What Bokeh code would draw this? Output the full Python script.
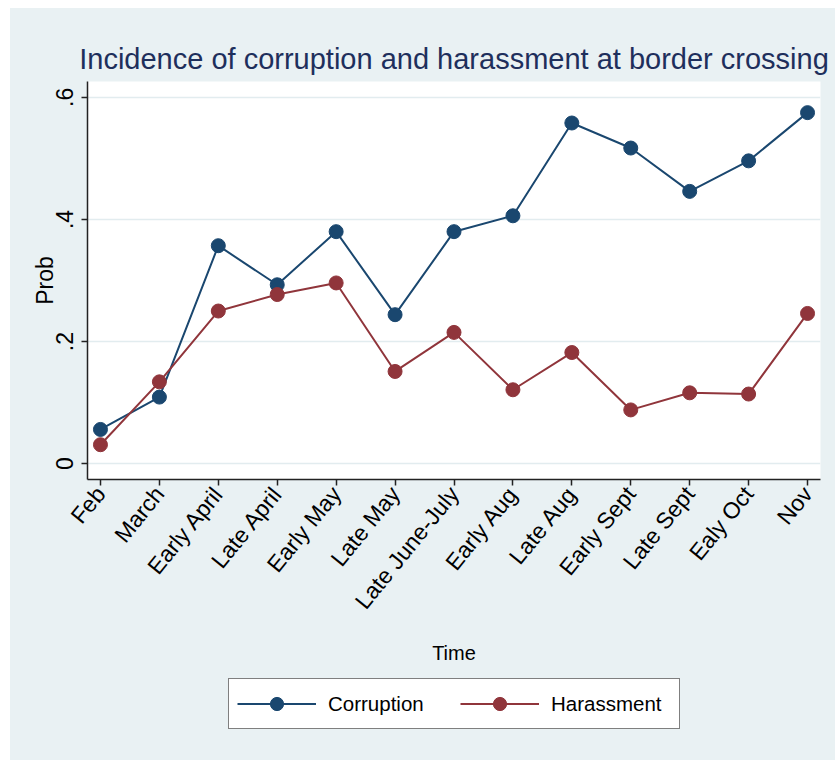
import math
from bokeh.plotting import figure
from bokeh.models import (Range1d, FixedTicker, Legend, LegendItem, ColumnDataSource, Spacer)
from bokeh.layouts import column, row
from bokeh.embed import file_html
from bokeh.resources import INLINE

categories = ["Feb", "March", "Early April", "Late April", "Early May", "Late May",
              "Late June-July", "Early Aug", "Late Aug", "Early Sept", "Late Sept",
              "Ealy Oct", "Nov"]
corruption = [0.056, 0.109, 0.357, 0.293, 0.380, 0.244, 0.380, 0.406, 0.558, 0.517, 0.446, 0.496, 0.575]
harassment = [0.031, 0.134, 0.250, 0.277, 0.296, 0.151, 0.215, 0.121, 0.182, 0.088, 0.116, 0.114, 0.246]
y_ticks = [0, 0.2, 0.4, 0.6]
y_tick_labels = ["0", ".2", ".4", ".6"]
series_names = ["Corruption", "Harassment"]

BG = "#e9f1f3"
NAVY = "#1a476f"
MAROON = "#90353b"
REG = "Liberation Sans"

xs = list(range(len(categories)))
src = ColumnDataSource(dict(x=xs, corr=corruption, har=harassment))

p = figure(width=825, height=670, output_backend="svg", toolbar_location=None,
           x_range=Range1d(-0.22, 12.22), y_range=Range1d(-0.026, 0.626),
           min_border_left=77, min_border_right=15, min_border_top=73, min_border_bottom=199)
p.border_fill_color = BG
p.background_fill_color = "white"
p.outline_line_color = None

p.title.text = "Incidence of corruption and harassment at border crossing"
p.title.align = "center"
p.title.text_font = REG
p.title.text_font_size = "29px"
p.title.text_font_style = "normal"
p.title.text_color = "#1e2f5c"
p.title.standoff = 13

# axes
p.xaxis.ticker = FixedTicker(ticks=xs)
p.xaxis.major_label_overrides = {i: c for i, c in enumerate(categories)}
p.xaxis.major_label_orientation = math.radians(51)
p.xaxis.major_label_text_font = REG
p.xaxis.major_label_text_font_size = "23px"
p.xaxis.major_label_text_color = "black"
p.xaxis.major_label_standoff = 4
p.xaxis.axis_label = "Time"
p.xaxis.axis_label_text_font = REG
p.xaxis.axis_label_text_font_size = "20px"
p.xaxis.axis_label_text_font_style = "normal"
p.xaxis.axis_label_text_color = "black"
p.xaxis.axis_label_standoff = 17

p.yaxis.ticker = FixedTicker(ticks=y_ticks)
p.yaxis.major_label_overrides = {t: l for t, l in zip(y_ticks, y_tick_labels)}
p.yaxis.major_label_orientation = "vertical"
p.yaxis.major_label_text_font = REG
p.yaxis.major_label_text_font_size = "23px"
p.yaxis.major_label_text_color = "black"
p.yaxis.major_label_standoff = 8
p.yaxis.axis_label = "Prob"
p.yaxis.axis_label_text_font = REG
p.yaxis.axis_label_text_font_size = "23px"
p.yaxis.axis_label_text_font_style = "normal"
p.yaxis.axis_label_text_color = "black"
p.yaxis.axis_label_standoff = -4

for ax in (p.xaxis, p.yaxis):
    ax.axis_line_color = "#222222"
    ax.axis_line_width = 1.5
    ax.major_tick_line_color = "#222222"
    ax.major_tick_line_width = 1.5
    ax.major_tick_in = 0
    ax.major_tick_out = 6
    ax.minor_tick_line_color = None

p.xgrid.grid_line_color = None
p.ygrid.ticker = FixedTicker(ticks=y_ticks)
p.ygrid.grid_line_color = "#e2ecef"
p.ygrid.grid_line_width = 1.5

p.line("x", "corr", source=src, line_color=NAVY, line_width=2)
p.scatter("x", "corr", source=src, size=14, fill_color=NAVY, line_color=NAVY)
p.line("x", "har", source=src, line_color=MAROON, line_width=2)
p.scatter("x", "har", source=src, size=14, fill_color=MAROON, line_color=MAROON)

# legend strip below the chart (same series; glyphs outside its range, shown only in the legend)
lf = figure(width=825, height=82, output_backend="svg", toolbar_location=None,
            x_range=Range1d(100, 101), y_range=Range1d(100, 101),
            x_axis_location=None, y_axis_location=None,
            min_border_left=0, min_border_right=0, min_border_top=0, min_border_bottom=0)
lf.border_fill_color = BG
lf.border_fill_alpha = 0
lf.background_fill_color = BG
lf.background_fill_alpha = 0
lf.outline_line_color = None
lf.grid.grid_line_color = None
ll1 = lf.line("x", "corr", source=src, line_color=NAVY, line_width=2)
ls1 = lf.scatter("x", "corr", source=src, size=14, fill_color=NAVY, line_color=NAVY)
ll2 = lf.line("x", "har", source=src, line_color=MAROON, line_width=2)
ls2 = lf.scatter("x", "har", source=src, size=14, fill_color=MAROON, line_color=MAROON)

legend = Legend(items=[LegendItem(label=series_names[0], renderers=[ll1, ls1]),
                       LegendItem(label=series_names[1], renderers=[ll2, ls2])],
                orientation="horizontal", location=(141, 31))
legend.label_text_font = REG
legend.label_text_font_size = "20.5px"
legend.label_text_color = "black"
legend.glyph_width = 79
legend.glyph_height = 33
legend.label_standoff = 12
legend.label_width = 120
legend.spacing = 12
legend.padding = 8
legend.margin = 0
legend.border_line_color = "black"
legend.border_line_width = 1
legend.background_fill_color = "white"
legend.background_fill_alpha = 1
lf.add_layout(legend, "center")

inner = column(p, lf, styles={"background-color": BG})
layout = column(Spacer(height=8), row(Spacer(width=10), inner))
open("out.html", "w").write(file_html(layout, INLINE))
